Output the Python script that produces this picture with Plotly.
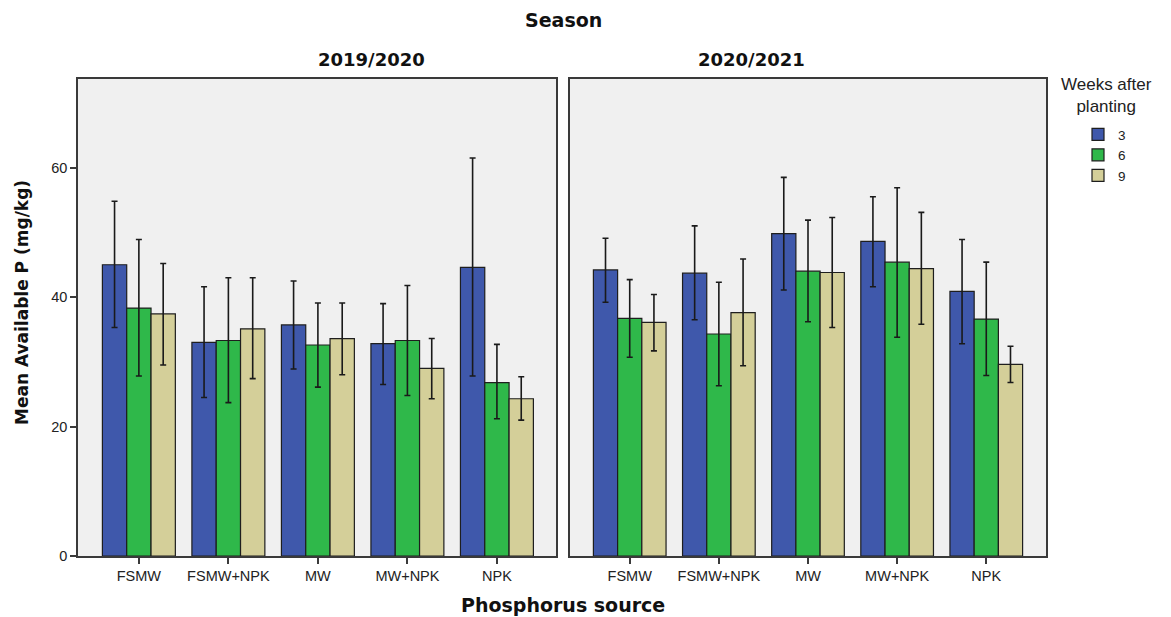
import plotly.graph_objects as go

sources = ["FSMW", "FSMW+NPK", "MW", "MW+NPK", "NPK"]
seasons = ["2019/2020", "2020/2021"]
weeks = ["3", "6", "9"]

# Means per season, per week (order of sources)
mean_s1_w3 = [45.0, 33.0, 35.7, 32.8, 44.6]
mean_s1_w6 = [38.3, 33.3, 32.6, 33.3, 26.8]
mean_s1_w9 = [37.4, 35.1, 33.6, 29.0, 24.3]
mean_s2_w3 = [44.2, 43.7, 49.8, 48.6, 40.9]
mean_s2_w6 = [36.7, 34.3, 44.0, 45.4, 36.6]
mean_s2_w9 = [36.1, 37.6, 43.8, 44.4, 29.6]

# Upper / lower error bar ends
hi_s1_w3 = [54.8, 41.6, 42.5, 39.0, 61.5]
lo_s1_w3 = [35.3, 24.5, 28.9, 26.5, 27.8]
hi_s1_w6 = [48.9, 43.0, 39.1, 41.8, 32.7]
lo_s1_w6 = [27.8, 23.7, 26.1, 24.8, 21.2]
hi_s1_w9 = [45.2, 43.0, 39.1, 33.6, 27.7]
lo_s1_w9 = [29.5, 27.4, 28.0, 24.3, 21.0]
hi_s2_w3 = [49.1, 51.0, 58.5, 55.5, 48.9]
lo_s2_w3 = [39.2, 36.5, 41.1, 41.6, 32.8]
hi_s2_w6 = [42.7, 42.3, 51.9, 56.9, 45.4]
lo_s2_w6 = [30.7, 26.3, 36.2, 33.8, 27.9]
hi_s2_w9 = [40.4, 45.9, 52.3, 53.1, 32.4]
lo_s2_w9 = [31.7, 29.4, 35.3, 35.8, 26.8]

colors = ["#3f58ab", "#2fb84a", "#d4cf99"]

data = {
    (0, 0): (mean_s1_w3, hi_s1_w3, lo_s1_w3),
    (0, 1): (mean_s1_w6, hi_s1_w6, lo_s1_w6),
    (0, 2): (mean_s1_w9, hi_s1_w9, lo_s1_w9),
    (1, 0): (mean_s2_w3, hi_s2_w3, lo_s2_w3),
    (1, 1): (mean_s2_w6, hi_s2_w6, lo_s2_w6),
    (1, 2): (mean_s2_w9, hi_s2_w9, lo_s2_w9),
}

fig = go.Figure()
for s in range(2):
    for w in range(3):
        m, hi, lo = data[(s, w)]
        fig.add_trace(go.Bar(
            x=sources, y=m, name=weeks[w],
            marker=dict(color=colors[w], line=dict(color="#1e1e1e", width=1.2)),
            error_y=dict(type="data", symmetric=False,
                         array=[h - v for h, v in zip(hi, m)],
                         arrayminus=[v - l for v, l in zip(m, lo)],
                         color="#1a1a1a", thickness=1.6, width=3),
            xaxis="x" if s == 0 else "x2", yaxis="y" if s == 0 else "y2",
            showlegend=(s == 0), legendgroup=weeks[w],
        ))

W, H = 1171, 617
font = "Liberation Sans, Arial, sans-serif"
bold = "DejaVu Sans, Verdana, sans-serif"
axis_common = dict(showline=True, linecolor="#3a3a3a", linewidth=1.5, mirror=True,
                   ticklen=6, tickcolor="#3a3a3a", tickwidth=1.5,
                   showgrid=False, zeroline=False, automargin=False,
                   tickfont=dict(family=font, size=14.5, color="#222"))

fig.update_layout(
    width=W, height=H,
    margin=dict(l=0, r=0, t=0, b=0),
    paper_bgcolor="white", plot_bgcolor="#f0f0f0",
    barmode="group", bargap=0.185, bargroupgap=0,
    font=dict(family=font, color="#111"),
    xaxis=dict(domain=[78 / W, 556 / W], range=[-0.68, 4.66], anchor="y",
               ticks="outside", **axis_common),
    xaxis2=dict(domain=[570 / W, 1046 / W], range=[-0.67, 4.67], anchor="y2",
                ticks="outside", **axis_common),
    yaxis=dict(domain=[1 - 556 / H, 1 - 79 / H], range=[0, 73.7], anchor="x",
               ticks="outside", tickvals=[0, 20, 40, 60], **axis_common),
    yaxis2=dict(domain=[1 - 556 / H, 1 - 79 / H], range=[0, 73.7], anchor="x2",
                ticks="", showticklabels=False, **axis_common),
    legend=dict(x=1078 / W, y=1 - 119 / H, xanchor="left", yanchor="top",
                font=dict(family=font, size=13.5, color="#222"),
                bgcolor="rgba(0,0,0,0)", itemwidth=30, tracegroupgap=0,
                indentation=0),
    annotations=[
        dict(text="<b>Season</b>", x=563 / W, y=1 - 20 / H, xref="paper", yref="paper",
             yanchor="middle", showarrow=False, font=dict(family=bold, size=19, color="#111")),
        dict(text="<b>2019/2020</b>", x=316 / W, y=1 - 60 / H, xref="paper", yref="paper",
             yanchor="middle", showarrow=False, font=dict(family=bold, size=18, color="#111")),
        dict(text="<b>2020/2021</b>", x=807 / W, y=1 - 60 / H, xref="paper", yref="paper",
             yanchor="middle", showarrow=False, font=dict(family=bold, size=18, color="#111")),
        dict(text="<b>Phosphorus source</b>", x=563 / W, y=1 - 605 / H, xref="paper", yref="paper",
             yanchor="middle", showarrow=False, font=dict(family=bold, size=19, color="#111")),
        dict(text="<b>Mean Available P (mg/kg)</b>", x=22 / W, y=1 - 303 / H, xref="paper", yref="paper",
             xanchor="center", yanchor="middle", showarrow=False, textangle=-90,
             font=dict(family=bold, size=17, color="#111")),
        dict(text="Weeks after<br>planting", x=1106 / W, y=1 - 96 / H, xref="paper", yref="paper",
             xanchor="center", yanchor="middle", showarrow=False, align="center",
             font=dict(family=font, size=17, color="#222")),
    ],
)

fig.write_html("out.html")
